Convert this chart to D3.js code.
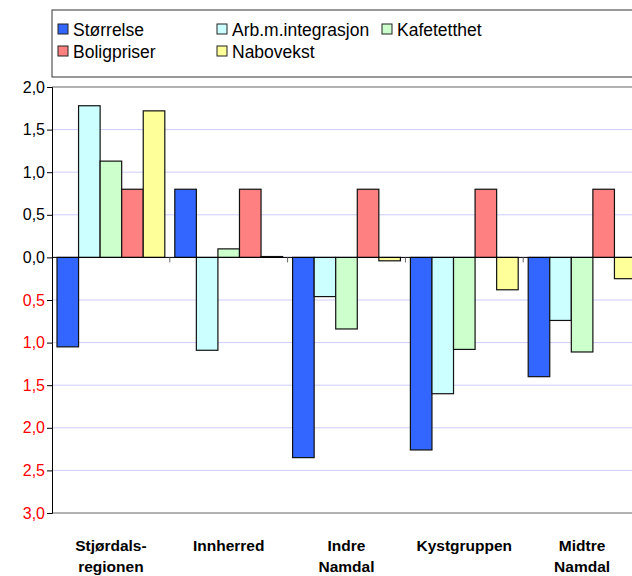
<!DOCTYPE html>
<html>
<head>
<meta charset="utf-8">
<script src="https://cdn.jsdelivr.net/npm/d3@7"></script>
<style>
  body { margin: 0; background: #fff; }
  text { font-family: "Liberation Sans", Arial, sans-serif; }
</style>
</head>
<body>
<div id="chart"></div>
<script>
const categories = [['Stjørdals-', 'regionen'], ['Innherred'], ['Indre', 'Namdal'], ['Kystgruppen'], ['Midtre', 'Namdal']]
const seriesNames = ['Størrelse', 'Arb.m.integrasjon', 'Kafetetthet', 'Boligpriser', 'Nabovekst']
const seriesColors = ['#3366ff', '#ccffff', '#ccffcc', '#ff8080', '#ffff99']
const values = [
  [-1.05, 0.80, -2.35, -2.26, -1.40],
  [1.78, -1.09, -0.46, -1.60, -0.74],
  [1.13, 0.10, -0.84, -1.08, -1.11],
  [0.80, 0.80, 0.80, 0.80, 0.80],
  [1.72, 0.01, -0.04, -0.38, -0.25]
]
const yTicks = [2, 1.5, 1, 0.5, 0, -0.5, -1, -1.5, -2, -2.5, -3]

const W = 632, H = 576
const m = { left: 52, top: 87, right: 641, bottom: 513 }

const svg = d3.select('#chart').append('svg').attr('width', W).attr('height', H)

const x = d3.scaleBand().domain(d3.range(categories.length)).range([m.left, m.right])
const xi = d3.scaleBand().domain(d3.range(seriesNames.length)).range([5, x.bandwidth() - 5])
const y = d3.scaleLinear().domain([-3, 2]).range([m.bottom, m.top])

// grid
svg.append('g').selectAll('line').data(yTicks.filter(t => t !== 2 && t !== -3)).enter().append('line')
  .attr('x1', m.left).attr('x2', W).attr('y1', d => y(d)).attr('y2', d => y(d))
  .attr('stroke', '#ccccff').attr('stroke-width', 1)

// plot border (top/bottom)
svg.append('line').attr('x1', m.left).attr('x2', W).attr('y1', m.top).attr('y2', m.top).attr('stroke', '#999').attr('stroke-width', 1.5)
svg.append('line').attr('x1', m.left).attr('x2', W).attr('y1', m.bottom).attr('y2', m.bottom).attr('stroke', '#999').attr('stroke-width', 1.5)

// bars
seriesNames.forEach((s, si) => {
  svg.append('g').selectAll('rect').data(values[si]).enter().append('rect')
    .attr('x', (d, i) => x(i) + xi(si))
    .attr('width', xi.bandwidth())
    .attr('y', d => y(Math.max(0, d)))
    .attr('height', d => Math.abs(y(d) - y(0)))
    .attr('fill', seriesColors[si])
    .attr('stroke', '#111').attr('stroke-width', 1.2)
})

// zero line
svg.append('line').attr('x1', m.left).attr('x2', W).attr('y1', y(0)).attr('y2', y(0)).attr('stroke', '#000')

// category ticks at zero line
svg.append('g').selectAll('line').data(d3.range(1, categories.length)).enter().append('line')
  .attr('x1', i => x(i)).attr('x2', i => x(i)).attr('y1', y(0)).attr('y2', y(0) + 5).attr('stroke', '#666')

// y axis
const yAxis = svg.append('g').attr('transform', `translate(${m.left},0)`)
  .call(d3.axisLeft(y).tickValues(yTicks).tickSize(5).tickFormat(d => d3.format('.1f')(Math.abs(d)).replace('.', ',')))
yAxis.select('.domain').attr('stroke', '#000')
yAxis.selectAll('.tick line').attr('stroke', '#000')
yAxis.selectAll('.tick text').attr('font-size', 16).attr('x', -7)
  .attr('fill', d => d < 0 ? '#ff0000' : '#000')

// x labels
const xl = svg.append('g').selectAll('text').data(categories).enter().append('text')
  .attr('x', (d, i) => x(i) + x.bandwidth() / 2).attr('y', 551)
  .attr('text-anchor', 'middle').attr('font-size', 15.5).attr('font-weight', 'bold')
xl.selectAll('tspan').data(d => d).enter().append('tspan')
  .attr('x', function () { return this.parentNode.getAttribute('x') })
  .attr('dy', (d, i) => i ? 21 : 0).text(d => d)

// legend
const lg = svg.append('g')
lg.append('rect').attr('x', 52).attr('y', 10).attr('width', 600).attr('height', 67)
  .attr('fill', '#fff').attr('stroke', '#333')
const legendPos = [[58, 29], [217, 29], [382, 29], [58, 51], [217, 51]]
seriesNames.forEach((s, si) => {
  const [lx, ly] = legendPos[si]
  lg.append('rect').attr('x', lx).attr('y', ly - 5).attr('width', 10).attr('height', 10)
    .attr('fill', seriesColors[si]).attr('stroke', '#222')
  lg.append('text').attr('x', lx + 15).attr('y', ly + 6.5).attr('font-size', 17.5).text(s)
})
</script>
</body>
</html>
